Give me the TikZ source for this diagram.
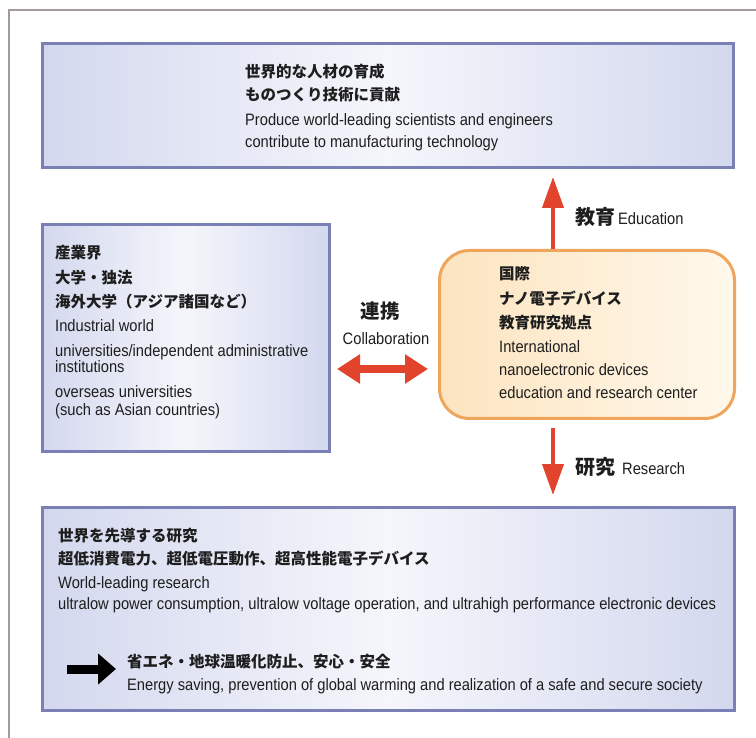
\documentclass[tikz,border=0pt]{standalone}
\usepackage{fontspec}
\setmainfont{Liberation Sans}
\newfontfamily\enf{Liberation Sans}[FakeStretch=0.89]
\newfontfamily\jpf{Noto Sans CJK JP}
\usetikzlibrary{arrows.meta}
\definecolor{boxline}{HTML}{7A7FB6}
\definecolor{boxfill}{HTML}{D3D8EE}
\definecolor{boxmid}{HTML}{F5F6FB}
\definecolor{orline}{HTML}{EFA65C}
\definecolor{orfill}{HTML}{FCE4BF}
\definecolor{orfill2}{HTML}{FFF8EC}
\definecolor{redarr}{HTML}{E2432C}
\definecolor{framec}{HTML}{A39B9B}
\definecolor{txt}{HTML}{1E1E1E}
\tikzset{
  bluebox/.style={draw=boxline, line width=3pt, left color=boxfill, right color=boxfill, middle color=boxmid, anchor=north west, inner sep=0pt},
  orbox/.style={draw=orline, line width=3pt, left color=orfill, right color=orfill2, rounded corners=30pt, anchor=north west, inner sep=0pt},
  jp/.style={font=\jpf\bfseries\fontsize{15.5}{15.5}\selectfont, anchor=base west, inner sep=0pt, text=txt},
  en/.style={font=\enf\fontsize{16.5}{16.5}\selectfont, anchor=base west, inner sep=0pt, text=txt},
  jpbig/.style={font=\jpf\bfseries\fontsize{20}{20}\selectfont, inner sep=0pt, text=txt},
  enlab/.style={font=\enf\fontsize{16.5}{16.5}\selectfont, inner sep=0pt, text=txt},
  redvert/.style={draw=redarr, line width=4pt, -{Triangle[width=21pt,length=31pt]}},
  reddbl/.style={draw=redarr, line width=8pt, {Triangle[width=28pt,length=23pt]}-{Triangle[width=28pt,length=23pt]}},
  blackarr/.style={draw=black, line width=9pt, -{Triangle[width=30pt,length=18pt]}}
}
\begin{document}
\begin{tikzpicture}[x=1pt,y=-1pt]
\useasboundingbox (0,0) rectangle (756,738);
\fill[white] (0,0) rectangle (756,738);
\draw[framec, line width=2pt] (9,738) -- (9,10) -- (756,10);

% boxes
\node[bluebox, minimum width=691pt, minimum height=124pt] (top) at (41,42) {};
\node[bluebox, minimum width=287pt, minimum height=227pt] (left) at (41,223) {};
\node[orbox, minimum width=295pt, minimum height=168pt] (center) at (438,249) {};
\node[bluebox, minimum width=692pt, minimum height=203pt] (bottom) at (41,506) {};

% top box text
\node[jp] (t1) at (245,78) {世界的な人材の育成};
\node[jp] (t2) at (245,101) {ものつくり技術に貢献};
\node[en] (t3) at (245,126) {Produce world-leading scientists and engineers};
\node[en] (t4) at (245,148) {contribute to manufacturing technology};

% left box text
\node[jp] (l1) at (55,259) {産業界};
\node[jp] (l2) at (55,284) {大学・独法};
\node[jp] (l3) at (55,308) {海外大学（アジア諸国など）};
\node[en] (l4) at (55,332) {Industrial world};
\node[en] (l5) at (55,357) {universities/independent administrative};
\node[en] (l6) at (55,373) {institutions};
\node[en] (l7) at (55,398) {overseas universities};
\node[en] (l8) at (55,416) {(such as Asian countries)};

% center box text
\node[jp] (c1) at (499,280) {国際};
\node[jp] (c2) at (499,305) {ナノ電子デバイス};
\node[jp] (c3) at (499,329) {教育研究拠点};
\node[en] (c4) at (499,353) {International};
\node[en] (c5) at (499,376) {nanoelectronic devices};
\node[en] (c6) at (499,399) {education and research center};

% bottom box text
\node[jp] (b1) at (58,541) {世界を先導する研究};
\node[jp] (b2) at (58,564) {超低消費電力、超低電圧動作、超高性能電子デバイス};
\node[en] (b3) at (58,588) {World-leading research};
\node[en] (b4) at (58,609) {ultralow power consumption, ultralow voltage operation, and ultrahigh performance electronic devices};
\node[jp] (b5) at (127,667) {省エネ・地球温暖化防止、安心・安全};
\node[en] (b6) at (127,690) {Energy saving, prevention of global warming and realization of a safe and secure society};

% labels
\node[jpbig, font=\jpf\bfseries\fontsize{19.5}{19.5}\selectfont, anchor=base] (collj) at (380,319) {連携};
\node[enlab, anchor=base] (colle) at (386,345) {Collaboration};
\node[jpbig, anchor=base west] (eduj) at (575,225) {教育};
\node[enlab, anchor=base west] (edue) at (618,225) {Education};
\node[jpbig, anchor=base west] (resj) at (575,475) {研究};
\node[enlab, anchor=base west] (rese) at (622,475) {Research};

% connectors
\coordinate (axis) at (553,0);
\coordinate (restip) at (553,495);
\coordinate (ca) at (337,369);
\coordinate (cb) at (428,369);
\coordinate (ka) at (67,669);
\coordinate (kb) at (116,669);
\draw[redvert, shorten >=8pt] (center.north -| axis) -- (top.south -| axis);
\draw[redvert, shorten <=8pt] (center.south -| axis) -- (restip);
\draw[reddbl] (ca) -- (cb);
\draw[blackarr] (ka) -- (kb);
\end{tikzpicture}
\end{document}
